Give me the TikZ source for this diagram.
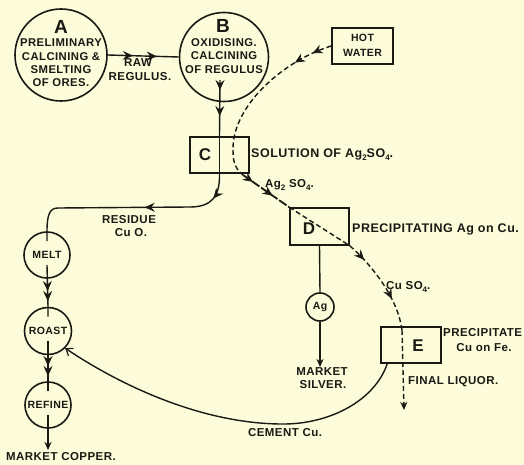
\documentclass[tikz,border=0pt]{standalone}
\usepackage{fontspec}
\setmainfont{Liberation Sans}
\newfontfamily\dfont[LetterSpace=4.0]{Liberation Sans}
\usetikzlibrary{arrows.meta,decorations.markings,calc}
\definecolor{paper}{RGB}{252,252,218}
\definecolor{ink}{RGB}{28,24,20}
\newcommand\dsub[1]{\raisebox{-0.45ex}{\fontsize{8}{8}\selectfont #1}}
\tikzset{
  >={Stealth[length=8pt,width=7pt,inset=2.5pt]},
  flow/.style={draw=ink, line width=1.4pt},
  dflow/.style={draw=ink, line width=1.4pt, dash pattern=on 5pt off 3pt},
  proc/.style={circle, draw=ink, line width=1.6pt, inner sep=0pt},
  tank/.style={rectangle, draw=ink, line width=1.6pt, inner sep=0pt},
  lbl/.style={text=ink, font=\dfont\bfseries\fontsize{11.5}{13}\selectfont, inner sep=0pt, align=center},
  wide/.style={font=\dfont\bfseries\fontsize{12.5}{13}\selectfont},
  small/.style={font=\dfont\bfseries\fontsize{10.5}{12}\selectfont},
  ctext/.style={text=ink, font=\dfont\bfseries\fontsize{11.3}{13.3}\selectfont, inner sep=0pt, align=center},
  big/.style={text=ink, font=\bfseries\fontsize{19}{19}\selectfont, inner sep=0pt},
  mid/.style={text=ink, font=\bfseries\fontsize{17}{17}\selectfont, inner sep=0pt},
  mktwo/.style 2 args={postaction={decorate}, decoration={markings,
      mark=at position #1 with {\arrow[solid, line width=0.8pt]{Stealth[length=10pt,width=9pt,inset=3.5pt]}},
      mark=at position #2 with {\arrow[solid, line width=0.8pt]{Stealth[length=10pt,width=9pt,inset=3.5pt]}}}},
}
\begin{document}
\begin{tikzpicture}[x=1pt,y=-1pt]
\fill[paper] (0,0) rectangle (524,465);
\useasboundingbox (0,0) rectangle (524,465);

% process circles
\node[proc, minimum size=92pt] (A) at (61,55) {};
\node[proc, minimum size=89pt] (B) at (224,57) {};
\node[big] (Aletter) at (61,27) {A};
\node[ctext] (Atext) at (61,63) {PRELIMINARY\\CALCINING \&\\SMELTING\\OF ORES.};
\node[big] (Bletter) at (223,26) {B};
\node[ctext] (Btext) at (224,56) {OXIDISING.\\CALCINING\\OF REGULUS};

% tanks
\node[tank, minimum width=61pt, minimum height=36pt] (HW) at (362.5,46) {};
\node[ctext, font=\dfont\bfseries\fontsize{10.5}{15}\selectfont] (HWtext) at (362.5,45) {HOT\\WATER};
\node[tank, minimum width=59pt, minimum height=36pt] (C) at (219.5,155) {};
\node[mid] (Cletter) at (205,155) {C};
\node[tank, minimum width=59pt, minimum height=37pt] (D) at (319.5,226.5) {};
\node[mid] (Dletter) at (309,229) {D};
\node[tank, minimum width=60pt, minimum height=36pt] (E) at (411,345) {};
\node[mid] (Eletter) at (418,346) {E};

% copper circles
\node[proc, minimum size=46pt] (MELT) at (47,255) {};
\node[lbl, small] (MELTt) at (47,255) {MELT};
\node[proc, minimum size=47pt] (ROAST) at (48,331) {};
\node[lbl, small] (ROASTt) at (48,331) {ROAST};
\node[proc, minimum size=46pt] (REFINE) at (48,405) {};
\node[lbl, small] (REFINEt) at (48,405) {REFINE};
\node[proc, minimum size=28pt] (Ag) at (320,307) {};
\node[lbl, small] (Agt) at (320,307) {Ag};

% labels
\node[lbl] (raw) at (138,63) {RAW};
\node[lbl] (reg) at (140,77) {REGULUS.};
\node[lbl, wide, anchor=west] (sol) at (251,155) {SOLUTION OF Ag\dsub{2}SO\dsub{4}.};
\node[lbl, anchor=west] (agso) at (265,185) {Ag\dsub{2} SO\dsub{4}.};
\node[lbl, wide, anchor=west] (prag) at (352,229) {PRECIPITATING Ag on Cu.};
\node[lbl, anchor=west] (cuso) at (386,287) {Cu SO\dsub{4}.};
\node[lbl] (res) at (129,220) {RESIDUE};
\node[lbl] (cuo) at (131,233) {Cu O.};
\node[lbl] (msil) at (322,372) {MARKET};
\node[lbl] (msil2) at (323,385) {SILVER.};
\node[lbl, anchor=west] (prcu) at (443,333) {PRECIPITATE};
\node[lbl] (prcu2) at (484,348) {Cu on Fe.};
\node[lbl, anchor=west] (fin) at (408,382) {FINAL LIQUOR.};
\node[lbl] (cem) at (285,433) {CEMENT Cu.};
\node[lbl] (mcop) at (61,457) {MARKET COPPER.};

% coordinates
\coordinate (Bout) at (220,80);
\coordinate (cpass) at (233,150);
\coordinate (cturn) at (243,175);
\coordinate (ein) at (402,330);
\coordinate (finend) at (404,410);
\coordinate (silend) at (320,367);
\coordinate (copend) at (48,450);

% A -> B
\draw[flow, mktwo={25pt}{49pt}] (A.east) -- (B.west);
% B -> C
\draw[flow, mktwo={10pt}{36pt}] (Bout) -- (C.north);
\draw[flow] (C.north) -- (C.south);
% C -> MELT
\draw[flow, mktwo={26pt}{97pt}] (C.south) .. controls (220,196) and (212,207) .. (190,207)
   -- (58,208) .. controls (50,208) and (47,214) .. (MELT.north) -- ++(0,10);
% MELT -> ROAST -> REFINE -> market copper
\draw[flow, mktwo={26pt}{36pt}] ($(MELT.center)+(0,10)$) -- (ROAST.north) -- ++(0,10);
\draw[flow, mktwo={25pt}{35pt}] ($(ROAST.center)+(0,10)$) -- (REFINE.north) -- ++(0,10);
\draw[flow, ->] ($(REFINE.center)+(0,10)$) -- (copend);
% D -> Ag -> market silver
\draw[flow] (D.south) -- (Ag.north);
\draw[flow, ->] (Ag.south) -- (silend);
% cement copper E -> ROAST
\draw[flow, -{Straight Barb[length=6pt,width=9pt,line width=1.2pt]}] ($(E.south west)+(7,0)$) .. controls (375,400) and (330,425) .. (280,424)
   .. controls (200,423) and (120,385) .. (ROAST.south east);

% hot water liquor path
\draw[dflow, mktwo={20pt}{40pt}] (HW.west) .. controls (285,60) and (232,105) .. (cpass);
\draw[dflow] (cpass) .. controls (233,164) and (236,169) .. (cturn);
\draw[dflow, line width=1.8pt, dash pattern=on 9pt off 2pt, mktwo={12pt}{36pt}] (cturn) -- (D.north west);
\draw[dflow] (D.north west) -- (D.south east);
\draw[dflow, mktwo={20pt}{68pt}] (D.south east) .. controls (375,268) and (398,300) .. (ein);
\draw[dflow, ->] (ein) -- (finend);
\end{tikzpicture}
\end{document}
